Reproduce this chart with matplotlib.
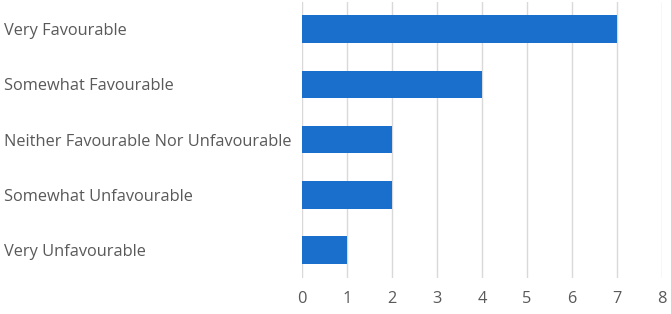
import matplotlib.pyplot as plt

# Dane
categories = ["Very Favourable", "Somewhat Favourable",
              "Neither Favourable Nor Unfavourable",
              "Somewhat Unfavourable", "Very Unfavourable"]
values = [7, 4, 2, 2, 1]
xticks = [0, 1, 2, 3, 4, 5, 6, 7, 8]

fig = plt.figure(figsize=(6.71, 3.14), dpi=100)
ax = fig.add_axes([302/671, 36.5/314, 360/671, 276/314])

pos = list(range(len(categories)))
ax.barh(pos, values, height=0.5, color="#1B6FCC", zorder=3)
ax.set_ylim(len(categories) - 0.5, -0.5)
ax.set_xlim(0, 8)
ax.set_xticks(xticks)
ax.set_yticks(pos)
ax.set_yticklabels(categories, ha="left", fontsize=11.8, color="#595959",
                   family="Open Sans")
ax.tick_params(axis="y", length=0, pad=298 * 72 / 100)
ax.tick_params(axis="x", length=0, pad=10, labelsize=11.8, labelcolor="#595959")
for lbl in ax.get_xticklabels():
    lbl.set_family("Open Sans")
ax.grid(axis="x", color="#D9D9D9", linewidth=1, zorder=0)
for s in ax.spines.values():
    s.set_visible(False)

fig.savefig("out.png", dpi=100)
